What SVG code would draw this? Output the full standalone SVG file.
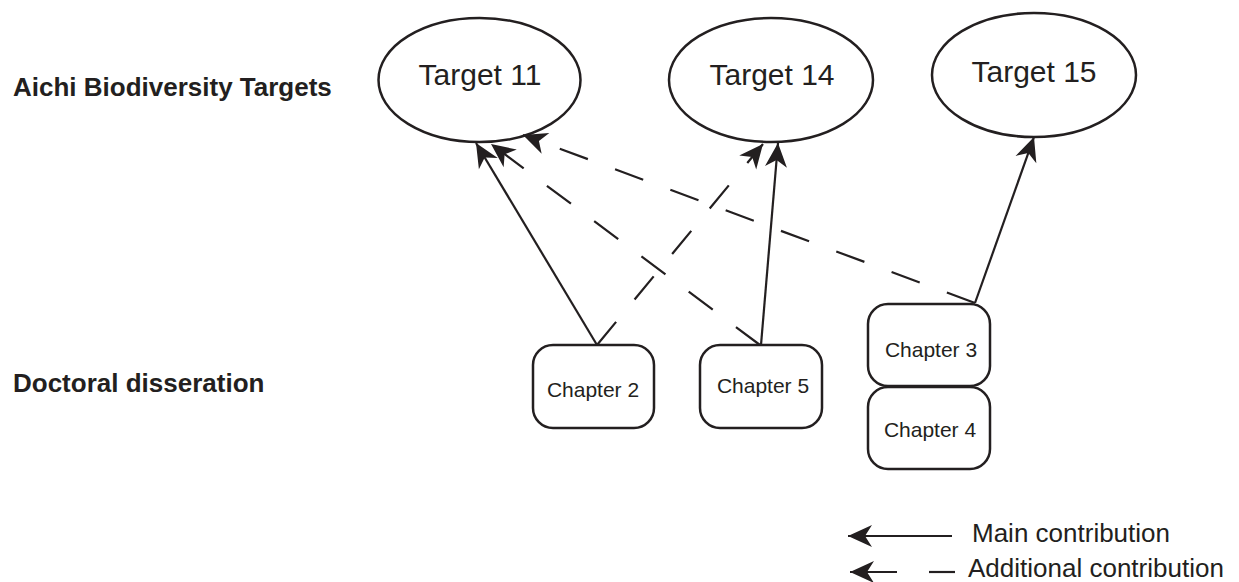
<svg xmlns="http://www.w3.org/2000/svg" width="1239" height="582" viewBox="0 0 1239 582">
<style>
.ell{fill:#fff;stroke:#231f20;stroke-width:2.5}
.box{fill:#fff;stroke:#231f20;stroke-width:2.5}
.tt{font-family:"Liberation Sans",Arial,sans-serif;font-size:30px;fill:#231f20;text-anchor:middle}
.ct{font-family:"Liberation Sans",Arial,sans-serif;font-size:21px;fill:#231f20;text-anchor:middle}
.lab{font-family:"Liberation Sans",Arial,sans-serif;font-size:26px;font-weight:bold;fill:#231f20}
.leg{font-family:"Liberation Sans",Arial,sans-serif;font-size:26px;fill:#231f20}
.main{stroke:#231f20;stroke-width:2.2;fill:none;marker-end:url(#ah)}
.add{stroke:#231f20;stroke-width:2.2;fill:none;stroke-dasharray:30 29;marker-end:url(#ah)}
</style>
<defs>
<marker id="ah" markerUnits="userSpaceOnUse" markerWidth="30" markerHeight="26" viewBox="-26 -13 28 26" refX="0" refY="0" orient="auto">
<path d="M0,0 L-24,-11 L-17,0 L-24,11 Z" fill="#231f20"/>
</marker>
</defs>
<rect width="1239" height="582" fill="#fff"/>
<g id="label-aichi"><text class="lab" x="13" y="96">Aichi Biodiversity Targets</text></g>
<g id="label-doctoral"><text class="lab" x="13" y="392">Doctoral disseration</text></g>
<g id="target11"><ellipse class="ell" cx="479.5" cy="80" rx="101" ry="62"/><text class="tt" x="480" y="85">Target 11</text></g>
<g id="target14"><ellipse class="ell" cx="771" cy="80" rx="102" ry="62"/><text class="tt" x="772" y="85">Target 14</text></g>
<g id="target15"><ellipse class="ell" cx="1034" cy="75" rx="102" ry="62"/><text class="tt" x="1034" y="82">Target 15</text></g>
<g id="chapter2"><rect class="box" x="533" y="345" width="121" height="83" rx="20"/><text class="ct" x="593" y="397">Chapter 2</text></g>
<g id="chapter5"><rect class="box" x="700" y="345" width="122" height="83" rx="20"/><text class="ct" x="763" y="393">Chapter 5</text></g>
<g id="chapter3"><rect class="box" x="868" y="304" width="122" height="82" rx="20"/><text class="ct" x="931" y="357">Chapter 3</text></g>
<g id="chapter4"><rect class="box" x="868" y="387" width="122" height="82" rx="20"/><text class="ct" x="930" y="437">Chapter 4</text></g>
<g id="connectors">
<line class="main" x1="597" y1="345" x2="476" y2="143"/>
<line class="add" x1="760" y1="345" x2="491" y2="144"/>
<line class="add" x1="975" y1="303" x2="523" y2="135"/>
<line class="main" x1="975" y1="303" x2="1034" y2="137"/>
<line class="main" x1="761" y1="345" x2="778" y2="143"/>
<line class="add" x1="597" y1="345" x2="763" y2="144"/>
</g>
<g id="legend">
<line class="main" x1="952" y1="536" x2="848" y2="536"/>
<text class="leg" x="972" y="542">Main contribution</text>
<line stroke="#231f20" stroke-width="2.2" x1="897" y1="572" x2="850" y2="572" marker-end="url(#ah)"/>
<line stroke="#231f20" stroke-width="2.2" x1="929" y1="572" x2="955" y2="572"/>
<text class="leg" x="968" y="577">Additional contribution</text>
</g>
</svg>
